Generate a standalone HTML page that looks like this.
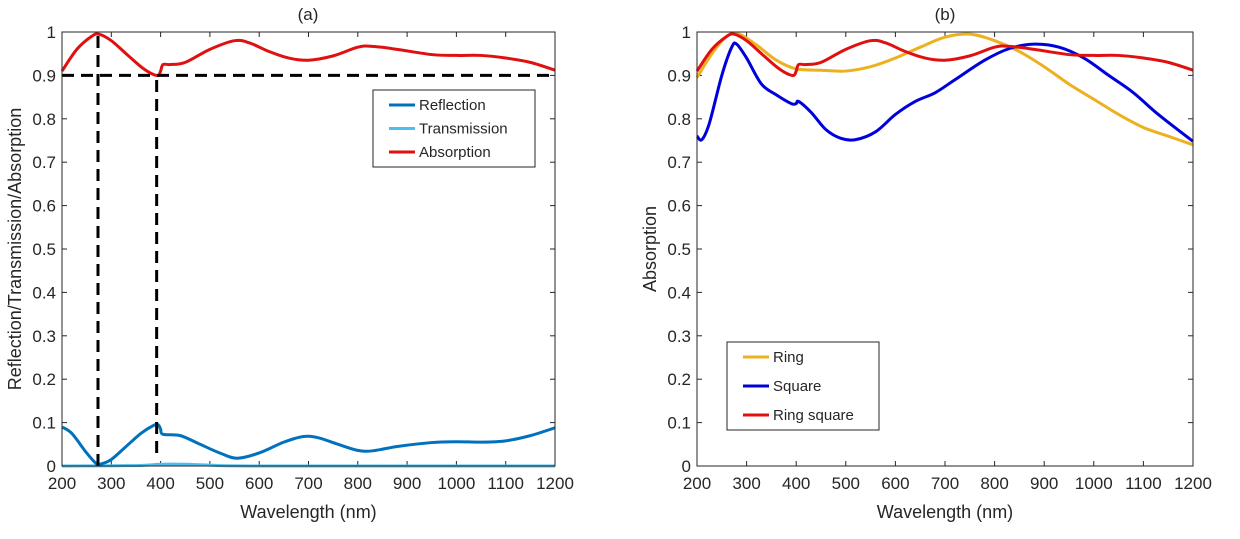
<!DOCTYPE html>
<html><head><meta charset="utf-8"><style>
body{margin:0;background:#fff;}
svg text{font-family:"Liberation Sans",Arial,sans-serif;fill:#262626;}
</style></head><body>
<svg id="c" width="1240" height="534" xmlns="http://www.w3.org/2000/svg"></svg>
<script>
const xTicks=[200,300,400,500,600,700,800,900,1000,1100,1200];
const yTicks=[0,0.1,0.2,0.3,0.4,0.5,0.6,0.7,0.8,0.9,1];
const yTickLabels=['0','0.1','0.2','0.3','0.4','0.5','0.6','0.7','0.8','0.9','1'];
const absX=[200,230,260,275,300,330,360,380,395,400,405,420,450,500,550,580,620,660,700,750,800,830,880,950,1000,1050,1100,1150,1200];
const absY=[.91,.96,.99,.995,.98,.95,.92,.905,.90,.91,.925,.925,.93,.96,.98,.975,.955,.94,.935,.945,.965,.967,.96,.948,.946,.946,.94,.93,.912];
const refX=[200,220,250,270,280,300,330,360,385,395,400,405,440,480,520,555,600,650,690,720,760,800,830,880,950,1000,1050,1100,1150,1200];
const refY=[.09,.075,.03,.005,.005,.015,.045,.075,.093,.095,.085,.073,.07,.05,.03,.018,.03,.055,.068,.065,.05,.036,.035,.045,.054,.056,.055,.058,.07,.088];
const traX=[200,350,400,450,500,600,1200];
const traY=[0,0.001,0.004,0.004,0.002,0,0];
const ringX=[200,230,260,285,320,360,400,450,500,550,600,650,700,750,800,850,900,950,1000,1050,1100,1150,1200];
const ringY=[.895,.95,.99,.995,.97,.935,.915,.912,.91,.92,.94,.965,.988,.995,.98,.955,.92,.88,.845,.81,.78,.76,.74];
const sqX=[200,210,225,250,270,280,300,330,360,390,400,405,430,460,490,520,560,600,640,680,720,780,830,880,930,980,1030,1080,1130,1200];
const sqY=[.76,.752,.79,.9,.965,.972,.94,.88,.855,.835,.835,.84,.815,.775,.755,.752,.77,.81,.84,.86,.89,.935,.962,.972,.965,.94,.9,.86,.81,.748];
const vLine1=[273,0,1], vLine2=[392,0.03,0.9], hLine=[0.9];

const NS='http://www.w3.org/2000/svg';
const svg=document.getElementById('c');
function el(t,a,p){const e=document.createElementNS(NS,t);for(const k in a)e.setAttribute(k,a[k]);(p||svg).appendChild(e);return e;}
function axes(x0,x1,y0,y1){return {sx:v=>x0+(v-200)/1000*(x1-x0),sy:v=>y1-v*(y1-y0),x0,x1,y0,y1};}
function path(ax,xs,ys){let p=xs.map((x,i)=>[ax.sx(x),ax.sy(ys[i])]);let d='M'+p[0][0]+','+p[0][1];
 for(let i=0;i<p.length-1;i++){const a=p[i-1]||p[i],b=p[i],c=p[i+1],e=p[i+2]||c;
 d+=` C${b[0]+(c[0]-a[0])/6},${b[1]+(c[1]-a[1])/6} ${c[0]-(e[0]-b[0])/6},${c[1]-(e[1]-b[1])/6} ${c[0]},${c[1]}`;}return d;}
function frame(ax,name){
 const g=el('g',{});
 xTicks.forEach(t=>{const x=ax.sx(t);el('line',{x1:x,x2:x,y1:ax.y1,y2:ax.y1-5,stroke:'#262626'},g);el('line',{x1:x,x2:x,y1:ax.y0,y2:ax.y0+5,stroke:'#262626'},g);
  const tx=el('text',{x:x,y:ax.y1+23,'text-anchor':'middle','font-size':'17'},g);tx.textContent=t;});
 yTicks.forEach((t,i)=>{const y=ax.sy(t);el('line',{x1:ax.x0,x2:ax.x0+5,y1:y,y2:y,stroke:'#262626'},g);el('line',{x1:ax.x1,x2:ax.x1-5,y1:y,y2:y,stroke:'#262626'},g);
  const tx=el('text',{x:ax.x0-6,y:y+6,'text-anchor':'end','font-size':'17'},g);tx.textContent=yTickLabels[i];});
 const xl=el('text',{x:(ax.x0+ax.x1)/2,y:ax.y1+52,'text-anchor':'middle','font-size':'18'},g);xl.textContent='Wavelength (nm)';
}
function border(ax){const r=el('rect',{x:ax.x0,y:ax.y0,width:ax.x1-ax.x0,height:ax.y1-ax.y0,fill:'none',stroke:'#262626','stroke-width':1});}
function series(ax,xs,ys,col,name){const p=el('path',{d:path(ax,xs,ys),fill:'none',stroke:col,'stroke-width':3,'stroke-linejoin':'round'});}
function legend(x,y,w,h,items,name){const g=el('g',{});
 el('rect',{x,y,width:w,height:h,fill:'#fff',stroke:'#262626'},g);
 items.forEach((it,i)=>{const yy=y+15+i*(h-30)/(items.length-1);el('line',{x1:x+16,x2:x+42,y1:yy,y2:yy,stroke:it[1],'stroke-width':3},g);
  const t=el('text',{x:x+46,y:yy+5,'font-size':'15'},g);t.textContent=it[0];});}

// (a)
const A=axes(62,555,32,466);
frame(A,'a');
let t=el('text',{x:308,y:20,'text-anchor':'middle','font-size':'17'});t.textContent='(a)';
t=el('text',{x:0,y:0,'text-anchor':'middle','font-size':'18',transform:`translate(21,${(A.y0+A.y1)/2}) rotate(-90)`});t.textContent='Reflection/Transmission/Absorption';
series(A,traX,traY,'#4DBEEE','transmission-line');
series(A,refX,refY,'#0072BD','reflection-line');
series(A,absX,absY,'#E01010','absorption-line');
const dash={stroke:'#000','stroke-width':3,'stroke-dasharray':'12,7',fill:'none'};
let l=el('line',Object.assign({x1:A.sx(200),x2:A.sx(1200),y1:A.sy(hLine[0]),y2:A.sy(hLine[0])},dash));
l=el('line',Object.assign({x1:A.sx(vLine1[0]),x2:A.sx(vLine1[0]),y1:A.sy(vLine1[1]),y2:A.sy(vLine1[2])},dash));
l=el('line',Object.assign({x1:A.sx(vLine2[0]),x2:A.sx(vLine2[0]),y1:A.sy(vLine2[1]),y2:A.sy(vLine2[2])},dash));
border(A);
legend(373,90,162,77,[['Reflection','#0072BD'],['Transmission','#4DBEEE'],['Absorption','#E01010']],'legend-a');

// (b)
const B=axes(697,1193,32,466);
frame(B,'b');
t=el('text',{x:945,y:20,'text-anchor':'middle','font-size':'17'});t.textContent='(b)';
t=el('text',{x:0,y:0,'text-anchor':'middle','font-size':'18',transform:`translate(656,${(B.y0+B.y1)/2}) rotate(-90)`});t.textContent='Absorption';
series(B,ringX,ringY,'#EDB120','ring-line');
series(B,sqX,sqY,'#0000DD','square-line');
series(B,absX,absY,'#E01010','ring-square-line');
border(B);
legend(727,342,152,88,[['Ring','#EDB120'],['Square','#0000DD'],['Ring square','#E01010']],'legend-b');
</script>
</body></html>
